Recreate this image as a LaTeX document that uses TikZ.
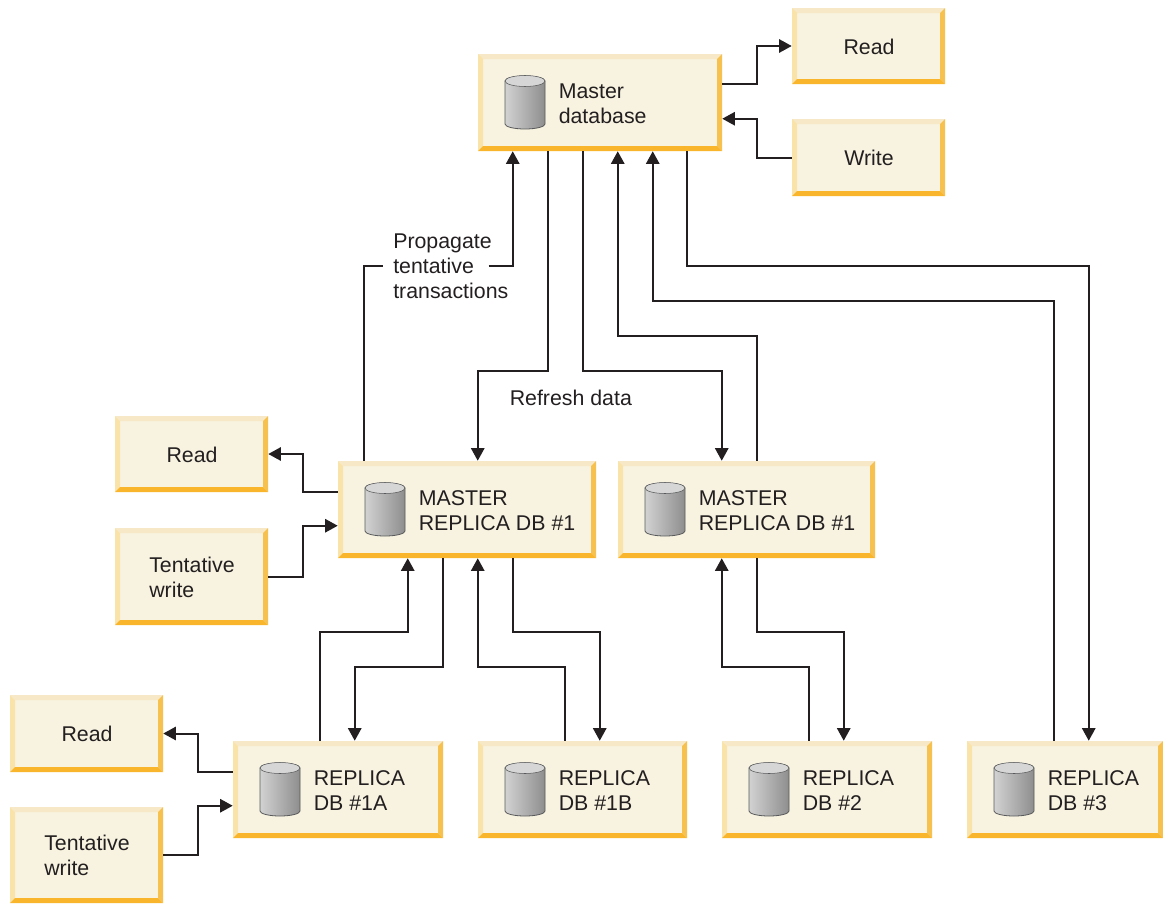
\documentclass[tikz,border=0pt]{standalone}
\usepackage{fontspec}
\setmainfont{Liberation Sans}
\usetikzlibrary{arrows.meta,calc,fit}
\definecolor{boxfill}{HTML}{F8F3E0}
\definecolor{bevT}{HTML}{F7E9C8}
\definecolor{bevL}{HTML}{FAE3A8}
\definecolor{bevR}{HTML}{F7C150}
\definecolor{bevB}{HTML}{F9B52B}
\definecolor{ink}{HTML}{231F20}
\definecolor{cylL}{HTML}{D2D2D2}
\definecolor{cylR}{HTML}{8E8E8E}
\definecolor{cylT}{HTML}{D6D6D6}
\definecolor{cylE}{HTML}{58595B}
\tikzset{
  x=0.75pt,y=-0.75pt,
  boxnode/.style={inner sep=0pt,fill=boxfill,text=ink,font=\fontsize{16}{18.75}\selectfont,align=left},
  lbl/.style={inner sep=0pt,text=ink,font=\fontsize{16}{18.75}\selectfont,align=left},
  conn/.style={draw=ink,line width=1.5pt,line join=miter},
  arr/.style={conn,-{Triangle[length=9.5pt,width=10pt]}},
}
\newcommand{\bevelbox}[6]{% name x1 y1 x2 y2 text
  \node[boxnode,fit={(#2,#3) (#4,#5)}] (#1) {};
  \fill[bevT] (#2,#3) -- (#4,#3) -- (#4-5,#3+5) -- (#2+5,#3+5) -- cycle;
  \fill[bevL] (#2,#3) -- (#2+5,#3+5) -- (#2+5,#5-5) -- (#2,#5) -- cycle;
  \fill[bevR] (#4,#3) -- (#4-5,#3+5) -- (#4-5,#5-5) -- (#4,#5) -- cycle;
  \fill[bevB] (#2,#5) -- (#2+5,#5-5) -- (#4-5,#5-5) -- (#4,#5) -- cycle;
  \node[lbl] (#1-t) at ($(#1.center)+(0.5,0.5)$) {#6};
}
\newcommand{\dbbox}[6]{% name x1 y1 x2 y2 text
  \node[boxnode,fit={(#2,#3) (#4,#5)}] (#1) {};
  \fill[bevT] (#2,#3) -- (#4,#3) -- (#4-5,#3+5) -- (#2+5,#3+5) -- cycle;
  \fill[bevL] (#2,#3) -- (#2+5,#3+5) -- (#2+5,#5-5) -- (#2,#5) -- cycle;
  \fill[bevR] (#4,#3) -- (#4-5,#3+5) -- (#4-5,#5-5) -- (#4,#5) -- cycle;
  \fill[bevB] (#2,#5) -- (#2+5,#5-5) -- (#4-5,#5-5) -- (#4,#5) -- cycle;
  \node[lbl,anchor=west] (#1-t) at (#2+80.5,#3+49.5) {#6};
  \path[draw=cylE,line width=0.6pt,left color=cylL,right color=cylR]
    (#2+27,#3+27) -- (#2+27,#3+70) arc[start angle=180,end angle=0,x radius=20,y radius=5]
    -- (#2+67,#3+27) arc[start angle=0,end angle=-180,x radius=20,y radius=5] -- cycle;
  \path[draw=cylE,line width=0.4pt,fill=cylT]
    (#2+47,#3+27) ellipse[x radius=20,y radius=5.5];
}
\begin{document}
\begin{tikzpicture}
\useasboundingbox (0,0) rectangle (1163,903);
\dbbox{m}{478}{54}{722}{151}{Master\\database}
\bevelbox{rt}{792}{8}{945}{84}{Read}
\bevelbox{wt}{792}{119}{945}{196}{Write}
\bevelbox{rl}{115}{416}{268}{492}{Read}
\bevelbox{tl}{115}{528}{268}{625}{Tentative\\write}
\dbbox{a}{338}{461}{596}{558}{MASTER\\REPLICA DB \#1}
\dbbox{b}{618}{461}{875}{558}{MASTER\\REPLICA DB \#1}
\bevelbox{rb}{10}{695}{163}{772}{Read}
\bevelbox{tb}{10}{807}{163}{903}{Tentative\\write}
\dbbox{c}{233}{741}{443}{838}{REPLICA\\DB \#1A}
\dbbox{d}{478}{741}{687}{838}{REPLICA\\DB \#1B}
\dbbox{e}{722}{741}{932}{838}{REPLICA\\DB \#2}
\dbbox{f}{967}{741}{1163}{838}{REPLICA\\DB \#3}
\node[lbl,anchor=north west] (prop) at (393,234) {Propagate\\tentative\\transactions};
\node[lbl,anchor=west] (refresh) at (509.5,398) {Refresh data};
% master side
\draw[arr] ($(m.north east)+(0,30)$) -- ++(35,0) |- (rt.west);
\draw[arr] (wt.west) -- ++(-35,0) |- ($(m.north east)+(0,65)$);
% propagate
\draw[conn] ($(a.north west)+(26,0)$) |- ($(prop.north west)+(-10,32)$);
\draw[arr] ($(prop.north east)+(-20,32)$) -| ($(m.south west)+(35,0)$);
% refresh
\draw[arr] ($(m.south west)+(70,0)$) -- ++(0,220) -| ($(a.north west)+(140,0)$);
\draw[arr] ($(m.south west)+(105,0)$) -- ++(0,220) -| ($(b.north west)+(104,0)$);
\draw[arr] ($(b.north west)+(139,0)$) -- ++(0,-125) -| ($(m.south west)+(140,0)$);
\draw[arr] ($(f.north west)+(87,0)$) -- ++(0,-440) -| ($(m.south west)+(175,0)$);
\draw[arr] ($(m.south west)+(209,0)$) -- ++(0,115) -| ($(f.north west)+(122,0)$);
% first replica side
\draw[arr] ($(a.north west)+(0,31)$) -- ++(-35,0) |- (rl.east);
\draw[arr] (tl.east) -- ++(35,0) |- ($(a.north west)+(0,65)$);
\draw[arr] ($(c.north west)+(87,0)$) -- ++(0,-109) -| ($(a.south west)+(70,0)$);
\draw[arr] ($(a.south west)+(105,0)$) -- ++(0,109) -| ($(c.north west)+(122,0)$);
\draw[arr] ($(d.north west)+(87,0)$) -- ++(0,-74) -| ($(a.south west)+(140,0)$);
\draw[arr] ($(a.south west)+(175,0)$) -- ++(0,74) -| ($(d.north west)+(122,0)$);
\draw[arr] ($(e.north west)+(87,0)$) -- ++(0,-74) -| ($(b.south west)+(104,0)$);
\draw[arr] ($(b.south west)+(139,0)$) -- ++(0,74) -| ($(e.north west)+(122,0)$);
% bottom left
\draw[arr] ($(c.north west)+(0,31)$) -- ++(-35,0) |- (rb.east);
\draw[arr] (tb.east) -- ++(35,0) |- ($(c.north west)+(0,65)$);
\end{tikzpicture}
\end{document}
